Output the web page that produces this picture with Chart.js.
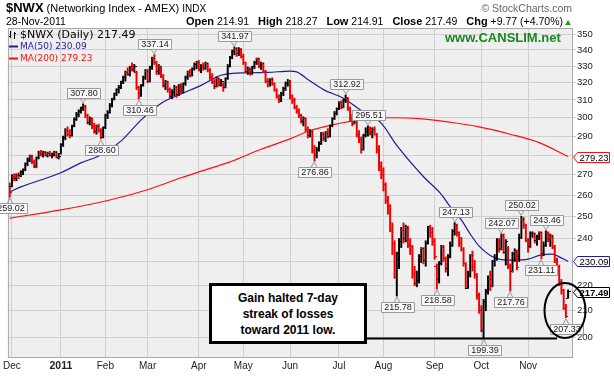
<!DOCTYPE html>
<html lang="en">
<head>
<meta charset="UTF-8">
<title>$NWX Daily - Networking Index</title>
<script src="https://cdn.jsdelivr.net/npm/chart.js"></script>
<style>
  body { margin: 0; background: #fff; font-family: Arial, "Liberation Sans", sans-serif; }
  #wrap { position: relative; width: 614px; height: 378px; overflow: hidden; }
  #nwxChart { position: absolute; left: 0; top: 0; }
  .title { position: absolute; left: 6px; top: 0; font-size: 11px; line-height: 16px; white-space: nowrap; color: #000; }
  .title b { font-size: 13px; }
  .title .ex { font-size: 10px; }
  .date { position: absolute; left: 6px; top: 15px; font-size: 10.5px; line-height: 13px; }
  .quote { position: absolute; right: 51px; top: 15px; font-size: 10.5px; line-height: 13px; white-space: nowrap; }
  .quote b { font-size: 11px; margin-left: 6px; }
  .up { position: absolute; left: 565px; top: 20px; width: 0; height: 0;
        border-left: 3.5px solid transparent; border-right: 3.5px solid transparent; border-bottom: 5px solid #22a022; }
  .copy { position: absolute; right: 42px; top: 2px; font-size: 10.5px; color: #666; }
  .site { position: absolute; left: 445px; top: 30px; font-size: 13px; font-weight: bold; color: #17881c; }
  .note { position: absolute; left: 209px; top: 283px; width: 158px; height: 61px; box-sizing: border-box;
          border: 3px solid #000; background: #fff; text-align: center; font-weight: bold;
          font-size: 12px; line-height: 16px; padding-top: 4px; }
</style>
</head>
<body>
<div id="wrap">
  <canvas id="nwxChart" width="614" height="378"></canvas>
  <div class="title"><b>$NWX</b> (Networking Index - AMEX) <span class="ex">INDX</span></div>
  <div class="date">28-Nov-2011</div>
  <div class="quote"><b>Open</b> 214.91 <b>High</b> 218.27 <b>Low</b> 214.91 <b>Close</b> 217.49 <b>Chg</b> +9.77 (+4.70%)</div>
  <div class="up"></div>
  <div class="copy">&copy; StockCharts.com</div>
  <div class="site">www.CANSLIM.net</div>
  <div class="note">Gain halted 7-day<br>streak of losses<br>toward 2011 low.</div>
</div>

<script>
// daily bars, index 0 = 30-Nov-2010 ... 251 = 28-Nov-2011
const monthTicks = [1, 23, 43, 62, 85, 105, 126, 148, 168, 191, 212, 233];
const monthLabels = ['Dec', '2011', 'Feb', 'Mar', 'Apr', 'May', 'Jun', 'Jul', 'Aug', 'Sep', 'Oct', 'Nov'];
const priceTicks = [200, 210, 220, 230, 240, 250, 260, 270, 280, 290, 300, 310, 320, 330, 340, 350];

const open = [
  265, 264, 269, 268, 270, 269.5, 271.5, 272.5, 275.5, 277.5,
  279.5, 276.5, 274, 278.5, 281, 280.5, 281.5, 280, 281, 280,
  280.5, 281.5, 279, 281, 285.5, 289, 293, 291, 290.5, 295.5,
  299, 302, 303.5, 305.5, 306.5, 301, 297.5, 299.5, 295, 292.5,
  295, 293, 289.5, 294.5, 301.5, 303, 307, 310.5, 313.5, 316,
  317.5, 320.5, 323, 326, 325, 329.5, 328, 326, 317, 314,
  318.5, 323, 327, 321, 329, 334.5, 332, 326.5, 329.5, 324,
  318.5, 320.5, 316, 312, 314.5, 317.5, 313, 318, 315.5, 319.5,
  323, 326, 324.5, 328.5, 331, 332, 328, 330, 328.5, 331.5,
  327.5, 323, 320.5, 318, 322.5, 319, 319, 317.5, 322.5, 330,
  335.5, 339, 341, 337.5, 340.5, 336, 332, 327, 328, 325.5,
  329.5, 332, 334.5, 330, 331.5, 327, 321, 320.5, 322, 319.5,
  316, 312, 310, 313.5, 316.5, 319.5, 321, 311.5, 309.5, 306,
  303.5, 301, 298, 299.5, 293.5, 290.5, 292.5, 282.5, 280, 283,
  286, 291, 288.5, 291.5, 290, 295.5, 299.5, 302.5, 305, 308.5,
  306, 309.5, 311, 305.5, 299.5, 297, 298.5, 291, 288, 283,
  290.5, 292.5, 294, 291.5, 293.5, 291, 283, 274, 272, 265,
  257.5, 255, 243.5, 238, 223.5, 231, 238.5, 243.5, 240, 245,
  237, 236.5, 225, 221, 222, 232, 235.5, 230.5, 238, 245,
  242.5, 238.5, 228, 222.5, 229, 236, 231.5, 227, 232, 237,
  243, 246, 242.5, 238, 235, 229, 219, 224.5, 232.5, 228,
  224.5, 216, 210, 202.5, 213.5, 217.5, 222.5, 220, 230, 231.5,
  238.5, 235.5, 241.5, 234, 236, 228, 226, 233, 234.5, 232,
  240.5, 248.5, 246, 239, 236.5, 242, 242, 239, 241, 242.5,
  233.5, 237, 242.5, 239.5, 241, 236, 230.5, 228, 221.5, 218,
  211, 214.91
];
const high = [
  266, 270, 270.5, 270.5, 271, 272, 273, 276, 278.5, 280,
  280, 277.5, 279, 282, 282.5, 282, 282, 281.5, 282, 281,
  282, 282, 280.5, 286, 290, 294, 295, 293.5, 296, 300,
  303, 304.5, 306, 307.8, 307, 302, 300.5, 300, 297, 296,
  296.5, 294, 295, 302, 304, 308, 311, 314, 316.5, 318.5,
  321, 324, 327, 329, 330, 332, 331, 327, 318, 319,
  324, 328, 328, 330, 335.5, 337.14, 333, 331, 330, 325,
  321.5, 321, 317, 316, 318.5, 318, 319, 319.5, 320, 324,
  327, 328, 329, 332, 333, 333.5, 331, 332, 332.5, 332,
  328.5, 325.5, 322, 323.5, 323, 322, 320, 323, 331, 336,
  340, 341.97, 341.5, 341.5, 341, 337.5, 332.5, 329.5, 329, 330,
  333, 335, 335, 332.5, 332, 327.5, 322.5, 322.5, 323, 320,
  316.5, 313, 314.5, 317.5, 320.5, 322, 321.5, 313, 311, 307,
  305, 302, 300.5, 300, 295, 293.5, 293, 285, 284, 287,
  292, 292, 292.5, 294, 296, 300, 303.5, 305.5, 309, 309.5,
  310.5, 312.92, 311.5, 306, 302, 302.5, 299, 293, 289.5, 291,
  294.5, 295.51, 295, 294.5, 295, 291.5, 285, 276.5, 273.5, 266,
  259.5, 255.5, 247, 239, 234, 240, 245, 247, 246, 245.5,
  240, 237, 228, 226, 233, 236, 236, 239, 245.5, 246,
  245, 240, 229, 230, 237, 237, 232, 233, 238.5, 244,
  247.13, 246.5, 243, 240.5, 236, 229.5, 226, 233, 234.5, 230.5,
  225, 217, 212, 214.5, 218.5, 224, 226, 230.5, 233, 240,
  240, 242.07, 242, 239.5, 236.5, 229, 234, 235.5, 235, 242,
  250.02, 249.5, 246.5, 240, 243, 243, 242.5, 241.5, 243, 243,
  238.5, 243.46, 243, 242, 241.5, 237, 231.5, 228.5, 222.5, 218.5,
  212.5, 218.27
];
const low = [
  259.02, 264, 267, 267, 268, 269, 270, 272, 274.5, 276.5,
  275.5, 273.5, 273.5, 278, 279.5, 279, 279.5, 279, 279.5, 278.5,
  279.5, 278.5, 278, 280.5, 284.5, 288, 290, 289, 290, 295,
  298.5, 300.5, 302.5, 304, 300, 296.5, 296, 294, 291.5, 291,
  292, 288.6, 289, 294, 299.5, 302.5, 306, 310, 312.5, 314,
  316.5, 319.5, 321, 324.5, 324, 327, 326.5, 316, 310.46, 312,
  318, 322, 320, 320.5, 328, 331, 325, 325, 323, 317.5,
  316, 314.5, 311, 310.8, 312.5, 311.5, 312.5, 314, 314, 318.5,
  322, 323.5, 324, 327.5, 328.5, 327, 326, 327.5, 328, 326.5,
  322, 319.5, 316.5, 317.5, 318, 318, 315, 317, 322, 329.5,
  334.5, 337, 336, 336.5, 335, 331, 326, 325, 324.5, 325,
  328.5, 331, 329, 328, 326, 320, 317.5, 318, 318.5, 315,
  311, 308.5, 309, 312.5, 315.5, 318, 310.5, 308, 305, 302.5,
  300, 297, 295.5, 292.5, 289, 289.5, 281, 276.86, 278.5, 282,
  285.5, 287.5, 287, 289, 289.5, 295, 299, 301.5, 304.5, 305,
  305.5, 308.5, 304, 298, 295.5, 296.5, 289.5, 286.5, 281, 282.5,
  289.5, 290, 290.5, 289, 290.5, 281, 272, 268, 262, 256,
  251, 243, 233, 223, 215.78, 227, 236, 238, 238.5, 236,
  233, 223, 220, 219.5, 221, 229.5, 229, 228, 237.5, 240.5,
  237, 231, 218.58, 221, 228.5, 230, 225.5, 224, 231.5, 236.5,
  241.5, 241, 236.5, 234.5, 228, 218.8, 218.8, 223.5, 226, 223,
  214.5, 209, 202, 199.39, 210, 216.5, 218, 219.5, 228, 230.5,
  234, 235, 233.5, 228.5, 227, 217.76, 225.5, 230, 226.5, 230,
  240, 244.5, 238.5, 234, 236, 240.5, 238, 237, 239.5, 231.11,
  232.5, 236.5, 238.5, 236.5, 235.5, 229.5, 227, 220, 216.5, 210.5,
  207.33, 214.91
];
const close = [
  261.5, 269, 268.5, 270, 269.5, 271.5, 272.5, 275.5, 277, 279.5,
  276.5, 274, 278.5, 281, 280.5, 281.5, 280, 281, 280, 280.5,
  281.5, 279, 279.5, 285.5, 289, 293, 291, 290.5, 295.5, 299,
  302, 303.5, 305.5, 306.5, 301, 297.5, 299.5, 295, 292.5, 295,
  293, 289.5, 294.5, 301.5, 303, 307, 310.5, 313.5, 316, 317.5,
  320.5, 323, 326, 325, 329.5, 328, 330, 317, 314, 318.5,
  323, 327, 321, 329, 334.5, 332, 326.5, 329.5, 324, 318.5,
  320.5, 316, 312, 314.5, 317.5, 313, 318, 315.5, 319.5, 323,
  326, 324.5, 328.5, 331, 332, 328, 330, 328.5, 331.5, 327.5,
  323, 320.5, 318, 322.5, 319, 321, 317.5, 322.5, 330, 335.5,
  339, 341, 337.5, 340.5, 336, 332, 327, 328, 325.5, 329.5,
  332, 334.5, 330, 331.5, 327, 321, 320.5, 322, 319.5, 316,
  312, 310, 313.5, 316.5, 319.5, 321, 311.5, 309.5, 306, 303.5,
  301, 298, 299.5, 293.5, 290.5, 292.5, 282.5, 280, 283, 286,
  291, 288.5, 291.5, 290, 295.5, 299.5, 302.5, 305, 308.5, 306,
  309.5, 311, 305.5, 299.5, 297, 298.5, 291, 288, 283, 290.5,
  292.5, 294, 291.5, 293.5, 291, 283, 274, 270, 265, 257.5,
  255, 243.5, 238, 223.5, 233.5, 238.5, 243.5, 240, 245, 237,
  236.5, 225, 221, 222, 232, 235.5, 230.5, 238, 245, 242.5,
  238.5, 232, 222.5, 229, 236, 231.5, 227, 232, 237, 243,
  246, 242.5, 238, 235, 229, 219, 224.5, 232.5, 228, 224.5,
  216, 210, 202.5, 213.5, 217.5, 222.5, 220, 230, 231.5, 238.5,
  235.5, 241.5, 234, 238.5, 228, 226, 233, 234.5, 227.5, 240.5,
  248.5, 246, 239, 236.5, 242, 242, 239, 241, 242.5, 233.5,
  237, 242.5, 239.5, 241, 236, 230.5, 228, 221.5, 218, 211,
  207.72, 217.49
];

// moving averages at these bar indexes
const ma50Idx = [0, 5, 14, 23, 32, 41, 50, 59, 68, 77, 86, 95, 107, 116, 126, 129, 134, 141, 150, 158, 167, 174, 186, 194, 198, 203, 207, 211, 216, 220, 226, 233, 238, 244, 247, 251];
const ma50 = [261.5, 264, 267.4, 271, 276, 280, 287.3, 298.7, 308, 313.5, 318.5, 324.5, 326, 326.2, 327, 326.5, 322, 316, 311, 304, 297, 285, 269, 260.4, 254.5, 248.4, 242, 236.6, 232.6, 231, 230.6, 231, 232.6, 233.2, 232, 230.09];
const ma200Idx = [0, 23, 45, 63, 77, 86, 99, 113, 126, 135, 144, 153, 162, 171, 184, 198, 211, 225, 238, 251];
const ma200 = [249.2, 253, 257.7, 263, 268.5, 271.8, 276.5, 283, 288.5, 293, 295.8, 298, 299.6, 300, 299.5, 297.5, 295, 291, 286.5, 279.23];

// labelled swing highs / lows
const peakIdx = [33, 65, 101, 151, 161, 200, 221, 230, 241];
const troughIdx = [0, 41, 58, 137, 174, 192, 213, 225, 239, 250];

const UP = '#000000';
const DOWN = '#ee0000';
const BLUE = '#1c1c9c';
const RED = '#ff1010';

const barColor = close.map((c, i) => (i > 0 && c >= close[i - 1]) ? UP : DOWN);

// little open / close ticks used as point styles
function tickImage(color, side) {
  const c = document.createElement('canvas');
  c.width = 5; c.height = 1;
  const g = c.getContext('2d');
  g.fillStyle = color;
  g.fillRect(side < 0 ? 0 : 3, 0, 2, 1);
  return c;
}
const openTick = { up: tickImage(UP, -1), down: tickImage(DOWN, -1) };
const closeTick = { up: tickImage(UP, 1), down: tickImage(DOWN, 1) };

const fmt = v => v.toFixed(2);

function callout(ctx, x, tip, text, above) {
  ctx.font = '9px Arial, "Liberation Sans"';
  const w = Math.round(ctx.measureText(text).width) + 5;
  const h = 10;
  const bx = Math.round(x - w / 2) + 0.5;
  const by = above ? Math.round(tip - 5 - h) + 0.5 : Math.round(tip + 5) + 0.5;
  ctx.fillStyle = '#f8f8f8';
  ctx.strokeStyle = '#9a9a9a';
  ctx.lineWidth = 1;
  ctx.beginPath();
  ctx.rect(bx, by, w, h);
  ctx.fill();
  ctx.stroke();
  const ey = above ? by + h : by;
  ctx.beginPath();
  ctx.moveTo(x - 3, ey);
  ctx.lineTo(x, tip);
  ctx.lineTo(x + 3, ey);
  ctx.stroke();
  ctx.fillStyle = '#222';
  ctx.textAlign = 'center';
  ctx.textBaseline = 'middle';
  ctx.fillText(text, bx + w / 2, by + h / 2 + 0.5);
}

function flag(ctx, x0, y, text, color, bold) {
  const bx = x0 + 4.5, w = 32, h = 10;
  const top = Math.round(y - h / 2) + 0.5;
  ctx.beginPath();
  ctx.moveTo(x0 + 0.5, top + h / 2);
  ctx.lineTo(bx, top);
  ctx.lineTo(bx + w, top);
  ctx.lineTo(bx + w, top + h);
  ctx.lineTo(bx, top + h);
  ctx.closePath();
  ctx.fillStyle = '#fff';
  ctx.fill();
  ctx.strokeStyle = color;
  ctx.lineWidth = 1;
  ctx.stroke();
  ctx.fillStyle = '#000';
  ctx.font = (bold ? 'bold ' : '') + '9.5px Arial, "Liberation Sans"';
  ctx.textAlign = 'left';
  ctx.textBaseline = 'middle';
  ctx.fillText(text, bx + 2, top + h / 2 + 0.5);
}

const overlay = {
  id: 'overlay',
  beforeDraw(chart) {
    const { ctx, chartArea: a } = chart;
    ctx.save();
    ctx.fillStyle = '#fff';
    ctx.fillRect(0, 0, chart.width, chart.height);
    ctx.fillStyle = '#efefef';
    ctx.fillRect(a.left, a.top, a.right - a.left, a.bottom - a.top);
    ctx.restore();
  },
  afterDraw(chart) {
    const { ctx, chartArea: a } = chart;
    const xs = chart.scales.x, ys = chart.scales.y;
    ctx.save();

    // plot frame
    ctx.strokeStyle = '#a8a8a8';
    ctx.lineWidth = 1;
    ctx.strokeRect(a.left + 0.5, a.top + 0.5, a.right - a.left - 1, a.bottom - a.top);

    // legend
    ctx.strokeStyle = '#000';
    ctx.beginPath();
    ctx.moveTo(10.5, 31); ctx.lineTo(10.5, 38); ctx.moveTo(9, 36.5); ctx.lineTo(10.5, 36.5);
    ctx.moveTo(14.5, 32); ctx.lineTo(14.5, 39); ctx.moveTo(14.5, 33.5); ctx.lineTo(16, 33.5);
    ctx.stroke();
    ctx.font = '11px "DejaVu Sans", Verdana, sans-serif';
    ctx.textAlign = 'left';
    ctx.textBaseline = 'middle';
    ctx.fillStyle = '#000';
    ctx.fillText('$NWX (Daily) ' + fmt(close[close.length - 1]), 20, 35.5);
    ctx.font = '9px "DejaVu Sans", Verdana, sans-serif';
    ctx.fillStyle = BLUE;
    ctx.fillRect(9, 45.5, 9, 2);
    ctx.fillText('MA(50) ' + fmt(ma50[ma50.length - 1]), 20, 46.5);
    ctx.fillStyle = RED;
    ctx.fillRect(9, 57.5, 9, 2);
    ctx.fillText('MA(200) ' + fmt(ma200[ma200.length - 1]), 20, 58.5);

    // swing labels
    peakIdx.forEach(i => callout(ctx, Math.round(xs.getPixelForValue(i)), ys.getPixelForValue(high[i]) - 1, fmt(high[i]), true));
    troughIdx.forEach(i => callout(ctx, Math.round(xs.getPixelForValue(i)), ys.getPixelForValue(low[i]) + 1, fmt(low[i]), false));

    // last values on the price axis
    flag(ctx, a.right, ys.getPixelForValue(ma200[ma200.length - 1]), fmt(ma200[ma200.length - 1]), RED, false);
    flag(ctx, a.right, ys.getPixelForValue(ma50[ma50.length - 1]), fmt(ma50[ma50.length - 1]), BLUE, false);
    flag(ctx, a.right, ys.getPixelForValue(close[close.length - 1]), fmt(close[close.length - 1]), '#000', true);

    // note: support line and circle
    ctx.strokeStyle = '#000';
    ctx.lineWidth = 2;
    const sy = Math.round(ys.getPixelForValue(low[213])) - 0.5;
    ctx.beginPath();
    ctx.moveTo(366, sy);
    ctx.lineTo(557, sy);
    ctx.stroke();
    ctx.beginPath();
    ctx.ellipse(565, 310.5, 20.5, 27.5, 0, 0, Math.PI * 2);
    ctx.stroke();
    ctx.restore();
  }
};

const idx = close.map((c, i) => i);

new Chart(document.getElementById('nwxChart'), {
  type: 'bar',
  data: {
    datasets: [
      {
        type: 'line',
        data: ma200Idx.map((x, k) => ({ x: x, y: ma200[k] })),
        borderColor: RED,
        borderWidth: 1.2,
        pointRadius: 0,
        cubicInterpolationMode: 'monotone',
        order: 3
      },
      {
        type: 'line',
        data: ma50Idx.map((x, k) => ({ x: x, y: ma50[k] })),
        borderColor: BLUE,
        borderWidth: 1.2,
        pointRadius: 0,
        cubicInterpolationMode: 'monotone',
        order: 2
      },
      {
        data: idx.map(i => ({ x: i, y: [low[i], high[i]] })),
        backgroundColor: barColor,
        barThickness: 1.3,
        grouped: false,
        order: 1
      },
      {
        type: 'line',
        showLine: false,
        data: idx.map(i => ({ x: i, y: open[i] })),
        pointStyle: c => barColor[c.dataIndex] === UP ? openTick.up : openTick.down,
        order: 0
      },
      {
        type: 'line',
        showLine: false,
        data: idx.map(i => ({ x: i, y: close[i] })),
        pointStyle: c => barColor[c.dataIndex] === UP ? closeTick.up : closeTick.down,
        order: 0
      }
    ]
  },
  options: {
    responsive: false,
    animation: false,
    events: [],
    layout: { padding: { left: 7, top: 28, right: 0, bottom: 0 } },
    plugins: { legend: { display: false }, tooltip: { enabled: false } },
    scales: {
      x: {
        type: 'linear',
        offset: false,
        min: -0.8,
        max: 253.2,
        afterBuildTicks: s => { s.ticks = monthTicks.map(v => ({ value: v })); },
        afterFit: s => { s.height = 21; },
        ticks: {
          autoSkip: false,
          maxRotation: 0,
          padding: 3,
          color: '#222',
          font: c => c.index === 1 ? { size: 10.5, weight: 'bold' } : { size: 10 },
          callback: (v, i) => monthLabels[i]
        },
        grid: { color: '#d0d0d0', drawTicks: false, offset: false },
        border: { display: false }
      },
      y: {
        type: 'logarithmic',
        position: 'right',
        min: 192.8,
        max: 354.1,
        afterBuildTicks: s => { s.ticks = priceTicks.map(v => ({ value: v })); },
        afterFit: s => { s.width = 41; },
        ticks: {
          autoSkip: false,
          padding: 1,
          color: '#222',
          font: { size: 9.5 },
          callback: v => String(v)
        },
        grid: { color: '#d0d0d0', tickLength: 3 },
        border: { color: '#a8a8a8' }
      }
    }
  },
  plugins: [overlay]
});
</script>
</body>
</html>
